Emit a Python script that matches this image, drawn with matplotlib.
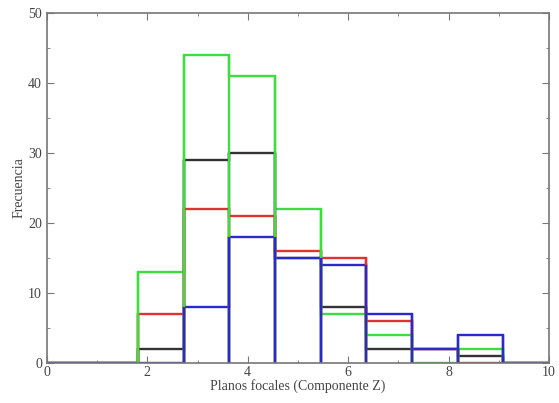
import numpy as np
import matplotlib.pyplot as plt
from matplotlib.ticker import MultipleLocator

# bins: 11 equal bins between 0 and 10
edges = np.linspace(0, 10, 12)

verde = [0, 0, 13, 44, 41, 22, 7, 4, 0, 2, 0]
negro = [0, 0, 2, 29, 30, 15, 8, 2, 2, 1, 0]
rojo = [0, 0, 7, 22, 21, 16, 15, 6, 2, 0, 0]
azul = [0, 0, 0, 8, 18, 15, 14, 7, 2, 4, 0]

series = [(negro, "#333333"), (rojo, "#dd3333"), (verde, "#3ddd3d"), (azul, "#2a2acc")]

plt.rcParams['font.family'] = ['Liberation Serif', 'DejaVu Serif']

fig = plt.figure(figsize=(5.59, 4.03), dpi=100)
ax = fig.add_axes([0.084, 0.099, 0.898, 0.869])

for vals, col in series:
    v = np.array(vals)
    # escalones + lineas de caida hasta cero en cada borde
    ax.stairs(v, edges, color=col, lw=1.7, baseline=None)
    drop = np.maximum(np.r_[0, v], np.r_[v, 0])
    ax.vlines(edges, 0, drop, color=col, lw=1.7)

ax.set_xlim(0, 10)
ax.set_ylim(0, 50)
ax.xaxis.set_major_locator(MultipleLocator(2))
ax.xaxis.set_minor_locator(MultipleLocator(1))
ax.yaxis.set_major_locator(MultipleLocator(10))
ax.yaxis.set_minor_locator(MultipleLocator(5))
ax.tick_params(which="both", direction="in", top=True, right=True,
               color="#777777", labelsize=10, labelcolor="#444444")
ax.tick_params(which="major", length=5)
ax.tick_params(which="minor", length=2.5)
ax.tick_params(axis="x", pad=2)
for s in ax.spines.values():
    s.set_color("#777777")
    s.set_linewidth(1.2)

ax.set_xlabel("Planos focales (Componente Z)", fontsize=10, color="#444444", labelpad=0)
ax.set_ylabel("Frecuencia", fontsize=10, color="#444444", labelpad=2)

fig.savefig("out.png", dpi=100)
